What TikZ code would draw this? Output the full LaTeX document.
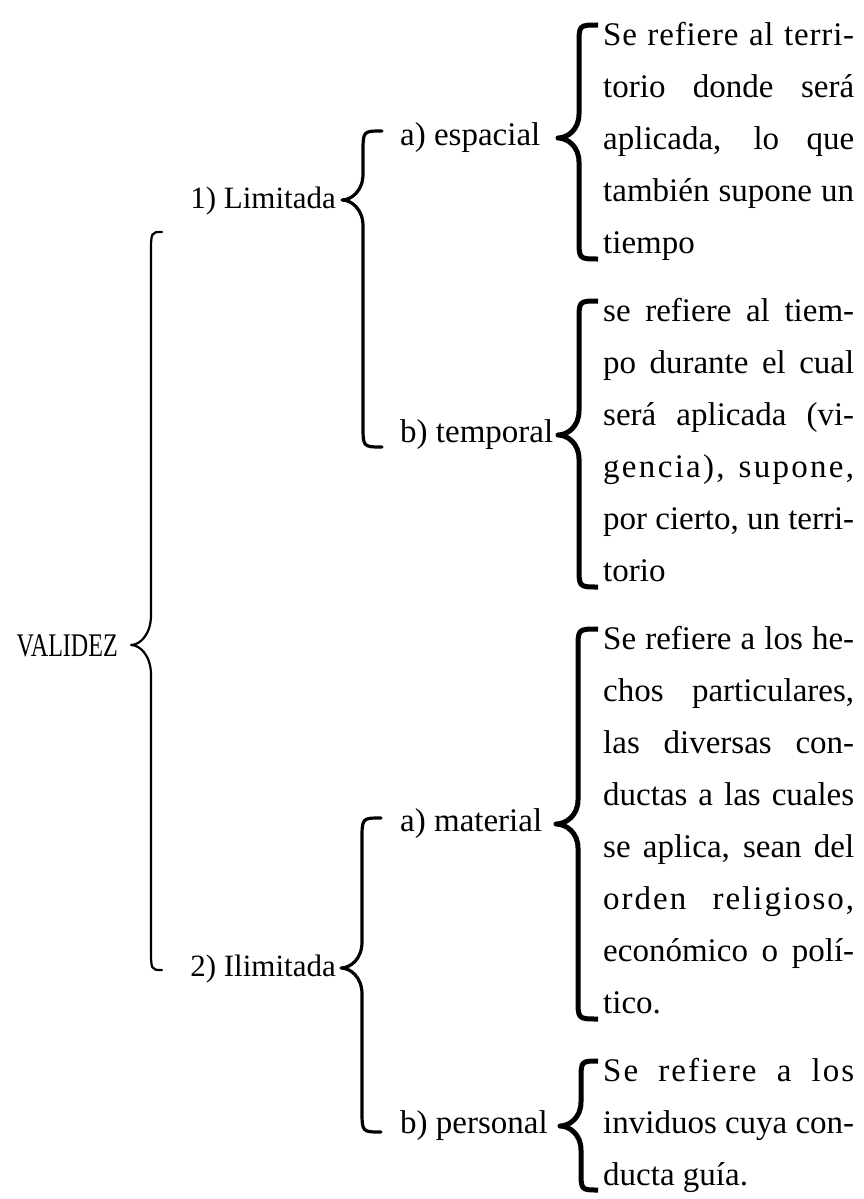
\documentclass[tikz,border=0pt]{standalone}
\usepackage{fontspec}
\setmainfont{Liberation Serif}
\usepackage{graphicx}
\newlength{\dw}\setlength{\dw}{251pt}
\newcommand{\J}[1]{\hbox to \dw{#1}}
\newcommand{\Js}[2][6]{\hbox to \dw{\addfontfeature{LetterSpace=#1}#2}}
\newcommand{\N}[1]{\hbox{#1}}
\newcommand{\blk}[1]{\vtop{\baselineskip=52pt\lineskiplimit=-100pt #1}}
% style, line x, top y, tip y, bottom y, tip x, hook x, hook span, tip span
\newcommand{\mybrace}[9]{%
  \draw[#1] (#7,#3) .. controls (#2,#3) .. ({#2},{#3+#8})
    -- ({#2},{#4-#9}) .. controls ({#2},{#4-0.35*#9}) and ({#6+0.45*(#2-#6)},#4) .. (#6,#4)
    .. controls ({#6+0.45*(#2-#6)},#4) and ({#2},{#4+0.35*#9}) .. ({#2},{#4+#9})
    -- ({#2},{#5-#8}) .. controls (#2,#5) .. (#7,#5);}
\begin{document}
\begin{tikzpicture}[x=1pt,y=-1pt,
  txt/.style={inner sep=0pt, font=\fontsize{33}{52}\selectfont},
  desc/.style={txt, anchor=base west},
  lab/.style={txt},
  lab2/.style={inner sep=0pt, font=\fontsize{31}{40}\selectfont},
  bigb/.style={line width=2.2pt, line cap=round, line join=round},
  midb/.style={line width=3.2pt, line cap=round, line join=round},
  thickb/.style={line width=5pt, line cap=butt, line join=round}]
\fill[white] (0,0) rectangle (864,1199);
\useasboundingbox (0,0) rectangle (864,1199);

% labels
\node[lab, anchor=base east] (val) at (118,656) {\scalebox{0.73}[1]{VALIDEZ}};
\node[lab2, anchor=base east] (lim) at (336,208) {1) Limitada};
\node[lab2, anchor=base east] (ilim) at (336,976) {2) Ilimitada};
\node[lab, anchor=base west] (esp) at (400,145.5) {a) espacial};
\node[lab, anchor=base west] (tem) at (400,442.5) {b) temporal};
\node[lab, anchor=base west] (mat) at (400,831.5) {a) material};
\node[lab, anchor=base west] (per) at (400,1133.5) {b) personal};

% descriptions
\node[desc] (desc1) at (603,45.5) {\blk{%
  \Js[2.5]{Se refiere al terri-}
  \J{torio donde será}
  \J{aplicada, lo que}
  \J{también supone un}
  \N{tiempo}}};
\node[desc] (desc2) at (603,321.5) {\blk{%
  \J{se refiere al tiem-}
  \J{po durante el cual}
  \J{será aplicada (vi-}
  \Js[7]{gencia), supone,}
  \J{por cierto, un terri-}
  \N{torio}}};
\node[desc] (desc3) at (603,649.5) {\blk{%
  \J{Se refiere a los he-}
  \J{chos particulares,}
  \J{las diversas con-}
  \J{ductas a las cuales}
  \J{se aplica, sean del}
  \Js{orden religioso,}
  \J{económico o polí-}
  \N{tico.}}};
\node[desc] (desc4) at (603,1081.5) {\blk{%
  \Js{Se refiere a los}
  \J{inviduos cuya con-}
  \N{ducta guía.}}};

% braces
\mybrace{bigb}{151}{232}{645}{970}{131}{162}{22}{30}
\mybrace{midb}{363}{131}{200}{447}{342}{382}{22}{26}
\mybrace{midb}{362}{818}{968}{1132}{341}{381}{22}{26}
\mybrace{thickb}{579}{25}{138}{259}{558}{598}{20}{24}
\mybrace{thickb}{579}{301}{435}{587}{558}{598}{20}{24}
\mybrace{thickb}{578}{629}{824}{1019}{556}{598}{20}{24}
\mybrace{thickb}{581}{1061}{1126}{1190}{560}{598}{20}{24}
\end{tikzpicture}
\end{document}
